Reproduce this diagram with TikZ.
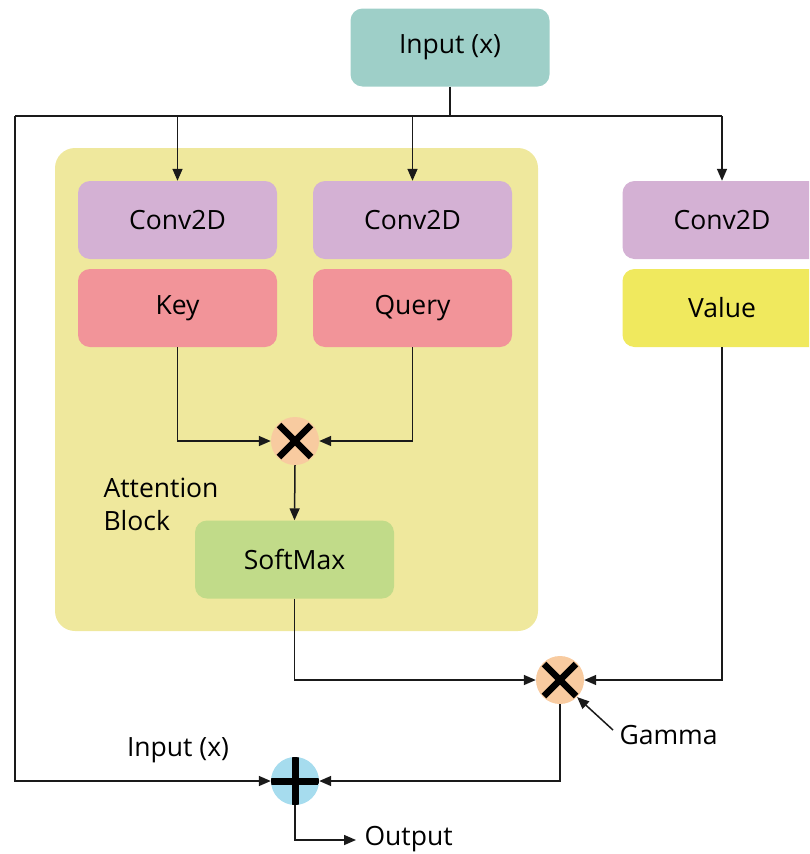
\documentclass[tikz,border=0pt]{standalone}
\usepackage{fontspec}
\setmainfont{Open Sans}
\usetikzlibrary{arrows.meta}

\definecolor{inputc}{HTML}{9ECFC8}
\definecolor{blockc}{HTML}{EFE89D}
\definecolor{convc}{HTML}{D4B1D4}
\definecolor{keyc}{HTML}{F29499}
\definecolor{valc}{HTML}{F0E95E}
\definecolor{softc}{HTML}{C1DB89}
\definecolor{mulc}{HTML}{F8CBA0}
\definecolor{addc}{HTML}{A6DCEE}
\definecolor{linec}{HTML}{1A1A1A}

\tikzset{
  txt/.style={font=\fontsize{26.5}{33}\selectfont},
  box/.style={txt, rounded corners=12pt, minimum width=199pt, minimum height=78pt, inner sep=0pt},
  mulop/.style={circle, fill=mulc, minimum size=48pt, inner sep=0pt,
    path picture={\draw[line width=6.5pt, black]
      ([shift={(-16pt,-16pt)}]path picture bounding box.center) -- ([shift={(16pt,16pt)}]path picture bounding box.center)
      ([shift={(-16pt,16pt)}]path picture bounding box.center) -- ([shift={(16pt,-16pt)}]path picture bounding box.center);}},
  addop/.style={circle, fill=addc, minimum size=48pt, inner sep=0pt,
    path picture={\draw[line width=7pt, black]
      ([shift={(-24pt,0pt)}]path picture bounding box.center) -- ([shift={(24pt,0pt)}]path picture bounding box.center)
      ([shift={(0pt,-24pt)}]path picture bounding box.center) -- ([shift={(0pt,24pt)}]path picture bounding box.center);}},
  wire/.style={draw=linec, line width=1.5pt},
  conn/.style={wire, -{Triangle[length=12pt,width=10pt]}},
}

\begin{document}
\begin{tikzpicture}[x=1pt, y=-1pt]
  \useasboundingbox (0,0) rectangle (809,854);
  \clip (0,0) rectangle (809,854);

  % attention block background
  \node[fill=blockc, rounded corners=20pt, minimum width=483pt, minimum height=483pt, inner sep=0pt] (block) at (296.5,389.5) {};
  \node[txt, align=left, anchor=west] (blocklabel) at (100,504) {Attention\\Block};

  % input
  \node[box, fill=inputc] (input) at (450,47.5) {Input (x)};

  % projections
  \node[box, fill=convc] (convk) at (177.5,220) {Conv2D};
  \node[box, fill=convc] (convq) at (412.5,220) {Conv2D};
  \node[box, fill=convc] (convv) at (722,220) {Conv2D};
  \node[box, fill=keyc] (key) at (177.5,308) {Key};
  \node[box, fill=keyc] (query) at (412.5,308) {Query};
  \node[box, fill=valc] (value) at (722,308) {Value};

  % operators
  \node[mulop] (mul1) at (295,441) {};
  \node[box, fill=softc] (softmax) at (294.5,559.5) {SoftMax};
  \node[mulop] (mul2) at (560,680) {};
  \node[addop] (add) at (295,781) {};

  % labels
  \node[txt, anchor=west] (gamma) at (616,735) {Gamma};
  \node[txt] (inlabel) at (178,750) {Input (x)};
  \node[txt, anchor=west] (output) at (361,839) {Output};

  % branching of the input
  \coordinate (split) at (450,116);
  \coordinate (lefte) at (15,116);
  \coordinate (righte) at (722,116);
  \coordinate (outend) at (356,840);
  \coordinate (gammastart) at (613,730);

  \draw[wire] (input.south) -- (split);
  \draw[wire] (lefte) -- (righte);
  \draw[conn] (convk.north |- split) -- (convk.north);
  \draw[conn] (convq.north |- split) -- (convq.north);
  \draw[conn] (righte) -- (convv.north);
  \draw[conn] (lefte) |- (add.west);

  % attention scores
  \draw[conn] (key.south) |- (mul1.west);
  \draw[conn] (query.south) |- (mul1.east);
  \draw[conn] (mul1.south) -- (softmax.north);

  % weighting the values
  \draw[conn] (softmax.south) |- (mul2.west);
  \draw[conn] (value.south) |- (mul2.east);
  \draw[conn] (gammastart) -- (mul2.-45);

  % residual sum
  \draw[conn] (mul2.south) |- (add.east);
  \draw[conn] (add.south) |- (outend);
\end{tikzpicture}
\end{document}
